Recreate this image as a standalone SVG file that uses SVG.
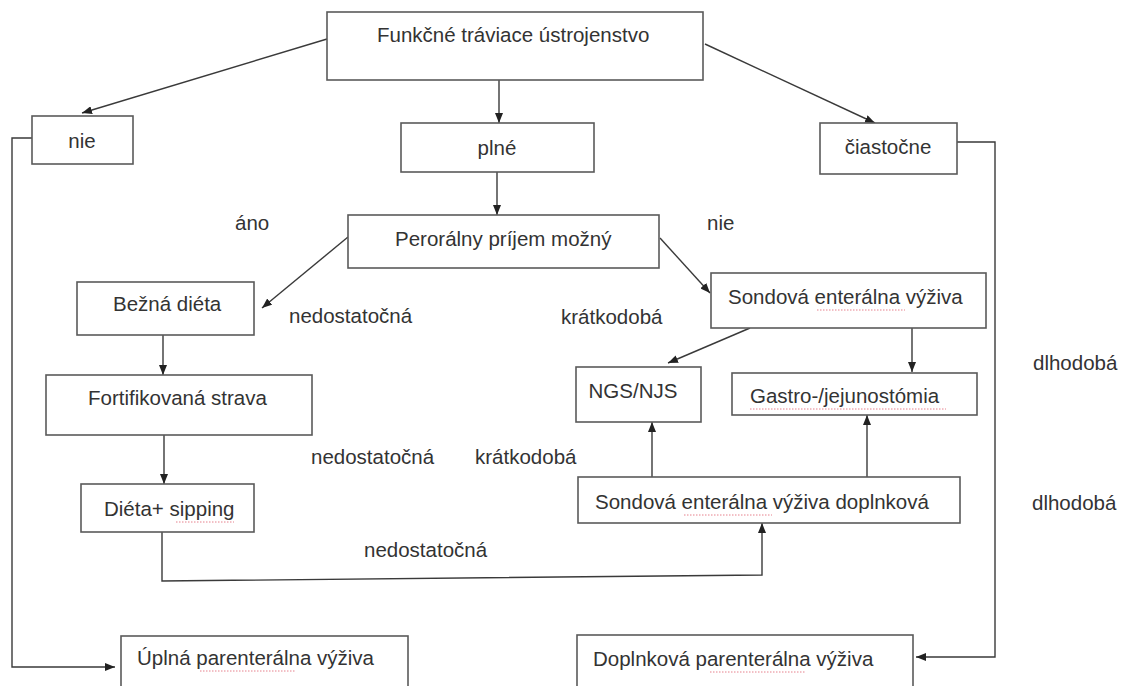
<svg xmlns="http://www.w3.org/2000/svg" width="1129" height="686" viewBox="0 0 1129 686">
<style>
.box{fill:#fff;stroke:#5a5a5a;stroke-width:1.6}
.t{font-family:"Liberation Sans",Arial,sans-serif;font-size:20.5px;fill:#333}
.m{text-anchor:middle}
.c{fill:none;stroke:#3a3a3a;stroke-width:1.4}
.sp{fill:none;stroke:#e06070;stroke-width:0.8;stroke-dasharray:1.5 1.5}
</style>
<defs>
<marker id="ah" viewBox="0 0 10 8" refX="10" refY="4" markerWidth="10" markerHeight="8" markerUnits="userSpaceOnUse" orient="auto">
<path d="M0,0 L10,4 L0,8 Z" fill="#222"/>
</marker>
</defs>
<rect width="1129" height="686" fill="#fff"/>

<g id="connectors">
<path class="c" d="M327,39 L82,113" marker-end="url(#ah)"/>
<path class="c" d="M499,80 L499,123" marker-end="url(#ah)"/>
<path class="c" d="M705,44 L875,123" marker-end="url(#ah)"/>
<path class="c" d="M497,172 L497,215" marker-end="url(#ah)"/>
<path class="c" d="M348,237 L262,308" marker-end="url(#ah)"/>
<path class="c" d="M660,238 L710,293" marker-end="url(#ah)"/>
<path class="c" d="M750,328 L668,363" marker-end="url(#ah)"/>
<path class="c" d="M912,328 L912,372" marker-end="url(#ah)"/>
<path class="c" d="M163,335 L163,375" marker-end="url(#ah)"/>
<path class="c" d="M164,435 L164,484" marker-end="url(#ah)"/>
<path class="c" d="M162,532 L162,581 L762,575 L762,523" marker-end="url(#ah)"/>
<path class="c" d="M652,477 L652,422" marker-end="url(#ah)"/>
<path class="c" d="M867,477 L867,415" marker-end="url(#ah)"/>
<path class="c" d="M32,138 L12,138 L12,667 L115,667" marker-end="url(#ah)"/>
<path class="c" d="M957,142 L995,142 L995,657 L916,657" marker-end="url(#ah)"/>
</g>

<g id="n-funkcne">
<rect class="box" x="327" y="12" width="376" height="68"/>
<text class="t" x="377" y="42">Funkčné tráviace ústrojenstvo</text>
</g>
<g id="n-nie">
<rect class="box" x="32" y="116" width="101" height="48"/>
<text class="t m" x="82" y="148">nie</text>
</g>
<g id="n-plne">
<rect class="box" x="401" y="123" width="193" height="49"/>
<text class="t m" x="497" y="155">plné</text>
</g>
<g id="n-ciastocne">
<rect class="box" x="820" y="123" width="137" height="51"/>
<text class="t m" x="888" y="154">čiastočne</text>
</g>
<g id="n-peroralny">
<rect class="box" x="348" y="215" width="311" height="53"/>
<text class="t" x="395" y="246">Perorálny príjem možný</text>
</g>
<g id="n-bezna">
<rect class="box" x="77" y="282" width="177" height="53"/>
<text class="t" x="113" y="311">Bežná diéta</text>
</g>
<g id="n-sondova">
<rect class="box" x="711" y="273" width="275" height="55"/>
<text class="t" x="728" y="304">Sondová enterálna výživa</text>
<path class="sp" d="M817,310 L905,310"/>
</g>
<g id="n-ngs">
<rect class="box" x="576" y="367" width="125" height="55"/>
<text class="t m" x="633" y="398">NGS/NJS</text>
</g>
<g id="n-gastro">
<rect class="box" x="732" y="373" width="245" height="42"/>
<text class="t" x="750" y="403">Gastro-/jejunostómia</text>
<path class="sp" d="M750,409 L946,409"/>
</g>
<g id="n-fortif">
<rect class="box" x="46" y="375" width="266" height="60"/>
<text class="t" x="88" y="405">Fortifikovaná strava</text>
</g>
<g id="n-dieta">
<rect class="box" x="81" y="484" width="173" height="48"/>
<text class="t" x="104" y="516">Diéta+ sipping</text>
<path class="sp" d="M176,522 L234,522"/>
</g>
<g id="n-doplnkova">
<rect class="box" x="578" y="477" width="382" height="46"/>
<text class="t" x="595" y="509">Sondová enterálna výživa doplnková</text>
<path class="sp" d="M684,515 L772,515"/>
</g>
<g id="n-uplna">
<rect class="box" x="121" y="636" width="287" height="64"/>
<text class="t" x="137" y="665">Úplná parenterálna výživa</text>
<path class="sp" d="M200,671 L295,671"/>
</g>
<g id="n-doplnkova-par">
<rect class="box" x="577" y="635" width="336" height="65"/>
<text class="t" x="593" y="666">Doplnková parenterálna výživa</text>
<path class="sp" d="M710,672 L805,672"/>
</g>

<g id="labels">
<text class="t" x="235" y="230">áno</text>
<text class="t" x="707" y="230">nie</text>
<text class="t" x="289" y="323">nedostatočná</text>
<text class="t" x="561" y="324">krátkodobá</text>
<text class="t" x="1033" y="370">dlhodobá</text>
<text class="t" x="311" y="464">nedostatočná</text>
<text class="t" x="475" y="464">krátkodobá</text>
<text class="t" x="1032" y="510">dlhodobá</text>
<text class="t" x="364" y="557">nedostatočná</text>
</g>
</svg>
